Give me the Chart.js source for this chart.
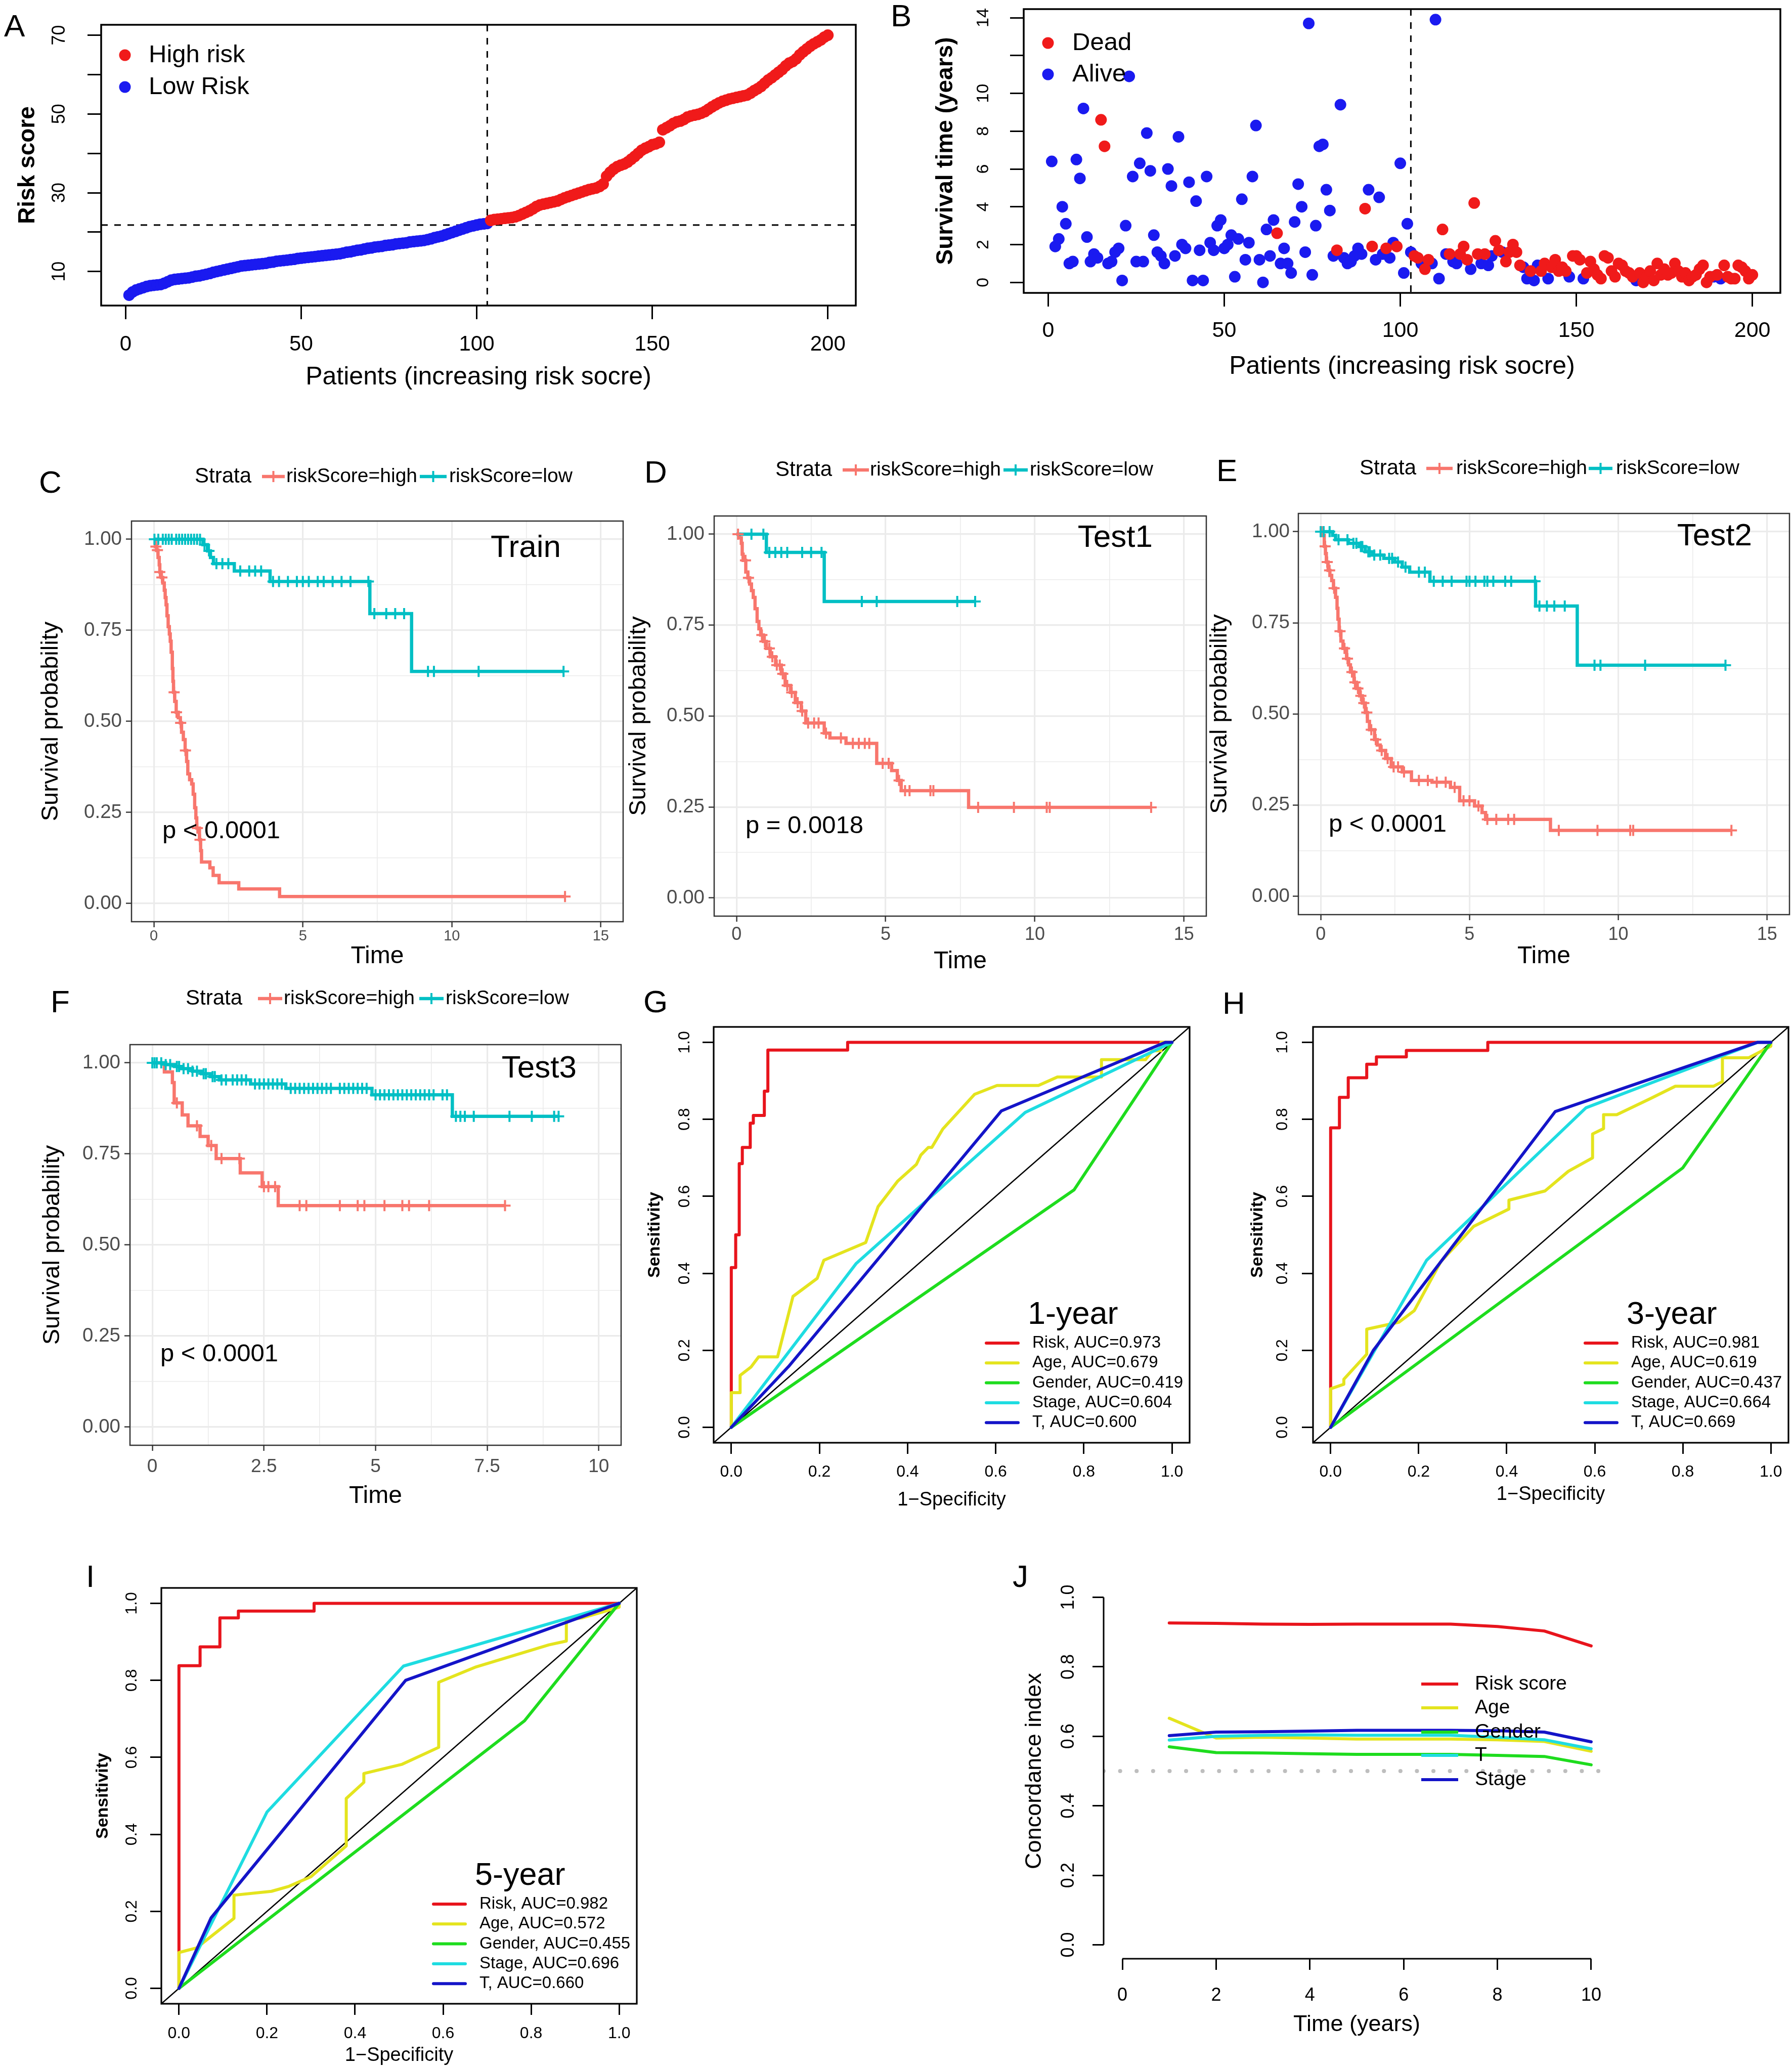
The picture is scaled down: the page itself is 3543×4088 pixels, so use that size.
<!DOCTYPE html>
<html>
<head>
<meta charset="utf-8">
<title>Risk model figure</title>
<script src="https://cdn.jsdelivr.net/npm/chart.js@4.4.1/dist/chart.umd.min.js"></script>
<style>
  html, body { margin: 0; padding: 0; background: #fff; }
  #page { position: relative; width: 3543px; height: 4088px; overflow: hidden; background: #fff;
          font-family: "Liberation Sans", Arial, Helvetica, sans-serif; }
  #page canvas { position: absolute; }
  .tag { position: absolute; font-size: 62px; line-height: 62px; color: #000; }
</style>
</head>
<body>
<div id="page"></div>
<script>
// ---------- A: risk score per patient (sorted) ----------
const riskScore = [
  4.0, 4.8, 5.3, 5.6, 5.9, 6.2, 6.4, 6.5, 6.6, 6.7,
  7.0, 7.4, 7.8, 8.0, 8.1, 8.2, 8.3, 8.4, 8.6, 8.8,
  8.9, 9.1, 9.3, 9.5, 9.8, 10.0, 10.2, 10.4, 10.6, 10.8,
  11.0, 11.2, 11.4, 11.5, 11.6, 11.7, 11.8, 11.9, 12.0, 12.1,
  12.3, 12.4, 12.6, 12.7, 12.8, 12.9, 13.0, 13.1, 13.3, 13.4,
  13.5, 13.6, 13.7, 13.8, 13.9, 14.0, 14.1, 14.2, 14.3, 14.4,
  14.5, 14.7, 14.9, 15.0, 15.2, 15.4, 15.5, 15.7, 15.9, 16.0,
  16.2, 16.3, 16.4, 16.6, 16.7, 16.8, 17.0, 17.1, 17.2, 17.3,
  17.5, 17.6, 17.7, 17.8, 17.9, 18.1, 18.3, 18.6, 18.8, 19.0,
  19.3, 19.6, 19.9, 20.2, 20.5, 20.8, 21.1, 21.4, 21.6, 21.8,
  22.0, 22.1, 22.2,
  23.0, 23.2, 23.3, 23.4, 23.5, 23.6, 23.7,
  23.9, 24.2, 24.6, 25.0, 25.4, 25.9, 26.5, 26.9, 27.1, 27.3,
  27.5, 27.7, 27.9, 28.3, 28.7, 29.0, 29.3, 29.6, 29.9, 30.2,
  30.5, 30.8, 31.0, 31.2, 31.6, 32.2, 34.2, 35.2, 36.0, 36.6,
  37.0, 37.3, 37.8, 38.5, 39.2, 40.0, 40.8, 41.3, 41.7, 42.2,
  42.4, 42.8, 46.0, 46.5, 47.0, 47.6, 48.0, 48.2, 48.6, 49.2,
  49.5, 49.7, 49.9, 50.2, 50.6, 51.2, 51.8, 52.3, 52.8, 53.2,
  53.5, 53.8, 54.0, 54.2, 54.4, 54.6, 54.8, 55.3, 55.9, 56.4,
  57.0, 57.8, 58.6, 59.2, 59.9, 60.6, 61.3, 62.2, 62.9, 63.3,
  64.0, 65.0, 65.8, 66.5, 67.2, 67.8, 68.3, 68.8, 69.5, 70.0
];
const riskCutoff = 21.8;
const lowRiskCount = 103;
const patientTicks = [0, 50, 100, 150, 200];
const riskTicks = [10, 20, 30, 40, 50, 60, 70];
const riskTickLabels = [10, 30, 50, 70];

// ---------- B: survival time and status per patient ----------
const survYears = [
  6.4, 1.9, 2.3, 4.0, 3.1, 1.0, 1.1, 6.5, 5.5, 9.2,
  2.4, 1.1, 1.5, 1.3, 8.6, 7.2, 1.0, 1.1, 1.6, 1.8,
  0.1, 3.0, 10.9, 5.6, 1.1, 6.3, 1.1, 7.9, 5.9, 2.5,
  1.6, 1.4, 1.0, 6.0, 5.1, 1.4, 7.7, 2.0, 1.8, 5.3,
  0.1, 4.3, 1.7, 0.1, 5.6, 2.1, 1.7, 3.0, 3.3, 1.8,
  2.0, 2.5, 0.3, 2.3, 4.4, 1.2, 2.1, 5.6, 8.3, 1.2,
  0.0, 2.8, 1.4, 3.3, 2.6, 1.0, 1.8, 1.0, 0.5, 3.2,
  5.2, 4.0, 1.6, 13.7, 0.4, 3.0, 7.2, 7.3, 4.9, 3.8,
  1.4, 1.7, 9.4, 1.3, 1.0, 1.1, 1.4, 1.8, 1.5, 3.9,
  4.9, 1.9, 1.2, 4.5, 1.5, 1.8, 1.3, 2.1, 1.9, 6.3,
  0.5, 3.1, 1.6, 1.4, 1.3, 1.0, 0.7, 1.2, 1.0, 13.9,
  0.2, 2.8, 1.5, 1.5, 1.1, 1.0, 1.5, 1.9, 1.2, 0.7,
  4.2, 1.5, 1.0, 1.5, 0.9, 1.4, 2.2, 1.7, 1.6, 1.1,
  1.6, 2.0, 1.6, 0.9, 0.8, 0.2, 0.6, 0.1, 0.9, 0.6,
  1.0, 0.2, 0.8, 1.2, 0.6, 0.8, 0.6, 0.3, 1.4, 1.4,
  1.2, 0.2, 0.5, 1.1, 0.7, 0.4, 0.2, 1.4, 1.3, 0.6,
  0.3, 1.0, 0.9, 0.6, 0.5, 0.3, 0.1, 0.5, 0.0, 0.3,
  0.6, 0.1, 1.0, 0.4, 0.7, 0.4, 0.5, 1.0, 0.6, 0.3,
  0.5, 0.1, 0.3, 0.4, 0.7, 0.9, 0.0, 0.3, 0.3, 0.4,
  0.2, 0.9, 0.3, 0.2, 0.2, 0.9, 0.8, 0.6, 0.2, 0.4
];
const deadFlag = [
  0, 0, 0, 0, 0, 0, 0, 0, 0, 0,
  0, 0, 0, 0, 1, 1, 0, 0, 0, 0,
  0, 0, 0, 0, 0, 0, 0, 0, 0, 0,
  0, 0, 0, 0, 0, 0, 0, 0, 0, 0,
  0, 0, 0, 0, 0, 0, 0, 0, 0, 0,
  0, 0, 0, 0, 0, 0, 0, 0, 0, 0,
  0, 0, 0, 0, 1, 0, 0, 0, 0, 0,
  0, 0, 0, 0, 0, 0, 0, 0, 0, 0,
  0, 1, 0, 0, 0, 0, 0, 0, 0, 1,
  0, 1, 0, 0, 0, 1, 0, 0, 1, 0,
  0, 0, 0, 1, 1, 0, 1, 1, 0, 0,
  0, 1, 0, 1, 0, 0, 1, 1, 1, 0,
  1, 1, 0, 1, 0, 0, 1, 1, 0, 1,
  1, 1, 1, 1, 0, 0, 1, 0, 0, 1,
  1, 0, 1, 1, 1, 1, 1, 0, 1, 1,
  1, 0, 1, 1, 1, 1, 1, 1, 1, 1,
  1, 1, 1, 1, 1, 1, 0, 1, 1, 1,
  1, 1, 1, 1, 1, 1, 1, 1, 1, 1,
  1, 1, 1, 1, 1, 1, 1, 1, 0, 1,
  0, 1, 1, 1, 1, 1, 1, 1, 1, 1
];
const survTicks = [0, 2, 4, 6, 8, 10, 12, 14];
const survTickLabels = [0, 2, 4, 6, 8, 10, 14];

// ---------- C-F: Kaplan-Meier steps [time, survival] and censor times ----------
const trainHighSteps = [[0.05,0.98],[0.1,0.97],[0.14,0.95],[0.18,0.93],[0.2,0.91],[0.25,0.895],[0.3,0.88],[0.35,0.86],
  [0.38,0.84],[0.41,0.82],[0.44,0.79],[0.48,0.76],[0.52,0.74],[0.55,0.72],[0.58,0.69],[0.62,0.645],[0.64,0.61],
  [0.66,0.58],[0.7,0.555],[0.75,0.525],[0.82,0.51],[0.89,0.496],[0.93,0.47],[0.99,0.45],[1.05,0.42],[1.1,0.39],
  [1.14,0.356],[1.2,0.34],[1.27,0.328],[1.32,0.3],[1.37,0.263],[1.41,0.235],[1.44,0.207],[1.53,0.175],[1.57,0.145],
  [1.6,0.114],[1.88,0.098],[1.99,0.077],[2.19,0.057],[2.85,0.04],[4.22,0.019]];
const trainHighCensor = [0.07, 0.12, 0.2, 0.27, 0.68, 0.76, 0.9, 1.06, 1.46, 1.55, 13.8];
const trainLowSteps = [[1.65,0.985],[1.8,0.968],[1.9,0.95],[2.0,0.933],[2.7,0.913],[3.9,0.884],[7.25,0.796],[8.65,0.637]];
const trainLowCensor = [0.02, 0.15, 0.3, 0.4, 0.5, 0.6, 0.75, 0.85, 0.95, 1.05, 1.15, 1.25, 1.35, 1.45, 1.55,
  1.7, 1.85, 2.1, 2.3, 2.5, 2.9, 3.2, 3.4, 3.6, 4.0, 4.2, 4.5, 4.8, 5.0, 5.2, 5.5, 5.7, 6.0, 6.3, 6.6, 7.2,
  7.4, 7.8, 8.1, 8.4, 9.2, 9.4, 10.9, 13.75];

const test1HighSteps = [[0.1,0.99],[0.16,0.975],[0.19,0.945],[0.22,0.928],[0.31,0.896],[0.38,0.88],[0.44,0.863],
  [0.5,0.845],[0.56,0.826],[0.62,0.795],[0.69,0.76],[0.75,0.74],[0.81,0.723],[0.9,0.705],[1.0,0.686],[1.13,0.663],
  [1.31,0.64],[1.5,0.616],[1.63,0.584],[1.81,0.565],[1.97,0.537],[2.17,0.514],[2.32,0.481],[2.94,0.453],[3.13,0.44],
  [3.67,0.425],[4.7,0.37],[5.2,0.35],[5.39,0.323],[5.52,0.295],[7.78,0.249]];
const test1HighCensor = [0.05, 0.3, 0.4, 0.85, 0.95, 1.1, 1.2, 1.35, 1.45, 1.55, 1.7, 1.85, 2.05, 2.2, 2.4, 2.6,
  2.75, 3.0, 3.5, 3.9, 4.1, 4.3, 4.45, 4.9, 5.1, 5.45, 5.65, 5.8, 6.5, 6.6, 8.1, 9.3, 10.4, 10.5, 13.9];
const test1LowSteps = [[1.0,0.95],[2.94,0.815]];
const test1LowCensor = [0.5, 0.9, 1.1, 1.3, 1.5, 1.7, 2.2, 2.5, 2.85, 4.2, 4.7, 7.4, 8.0];

const test2HighSteps = [[0.06,0.99],[0.12,0.96],[0.16,0.94],[0.19,0.917],[0.25,0.894],[0.31,0.88],[0.37,0.866],
  [0.43,0.845],[0.5,0.82],[0.55,0.79],[0.58,0.76],[0.62,0.727],[0.68,0.7],[0.75,0.68],[0.87,0.652],[0.94,0.635],
  [1.0,0.615],[1.12,0.587],[1.2,0.57],[1.31,0.55],[1.4,0.53],[1.5,0.504],[1.57,0.48],[1.64,0.457],[1.81,0.43],
  [1.9,0.415],[2.0,0.4],[2.18,0.378],[2.37,0.355],[2.74,0.341],[3.05,0.318],[3.74,0.313],[4.36,0.299],[4.67,0.262],
  [5.17,0.248],[5.42,0.23],[5.54,0.211],[7.72,0.181]];
const test2HighCensor = [0.03, 0.15, 0.22, 0.3, 0.45, 0.65, 0.8, 0.9, 1.05, 1.15, 1.25, 1.35, 1.45, 1.55, 1.7,
  1.85, 2.05, 2.25, 2.45, 2.6, 2.8, 3.3, 3.6, 3.9, 4.2, 4.5, 4.8, 5.0, 5.3, 5.6, 5.9, 6.3, 6.5, 8.0, 9.3, 10.4,
  10.5, 13.8];
const test2LowSteps = [[0.4,0.99],[0.5,0.978],[0.93,0.968],[1.3,0.959],[1.5,0.945],[1.74,0.936],[2.12,0.927],
  [2.49,0.917],[2.74,0.903],[2.99,0.889],[3.67,0.864],[7.22,0.796],[8.62,0.634]];
const test2LowCensor = [0.0, 0.1, 0.3, 0.6, 0.9, 1.1, 1.2, 1.35, 1.4, 1.6, 1.65, 1.8, 2.0, 2.3, 2.4, 2.6, 2.85,
  3.3, 3.5, 3.8, 4.1, 4.4, 4.9, 5.0, 5.2, 5.5, 5.6, 5.8, 6.2, 6.4, 7.2, 7.35, 7.6, 7.85, 8.2, 9.2, 9.4, 10.9, 13.6];

const test3HighSteps = [[0.27,0.975],[0.45,0.946],[0.49,0.89],[0.67,0.857],[0.8,0.827],[1.07,0.798],[1.25,0.773],
  [1.43,0.737],[1.97,0.698],[2.46,0.66],[2.82,0.608]];
const test3HighCensor = [0.55, 1.0, 1.32, 1.55, 1.95, 2.5, 2.6, 2.75, 3.3, 3.45, 4.2, 4.6, 4.75, 5.2, 5.6, 5.75,
  6.2, 7.9];
const test3LowSteps = [[0.3,0.995],[0.5,0.99],[0.65,0.984],[0.9,0.977],[1.1,0.97],[1.3,0.962],[1.5,0.953],
  [2.2,0.942],[2.99,0.93],[4.92,0.912],[6.72,0.853]];
const test3LowCensor = [0, 0.05, 0.1, 0.2, 0.3, 0.4, 0.55, 0.6, 0.7, 0.8, 0.9, 1.0, 1.15, 1.2, 1.35, 1.4, 1.55,
  1.65, 1.8, 1.9, 2.0, 2.1, 2.3, 2.4, 2.5, 2.6, 2.7, 2.8, 2.9, 3.1, 3.2, 3.3, 3.4, 3.5, 3.6, 3.7, 3.8, 3.9, 4.0,
  4.2, 4.3, 4.4, 4.5, 4.6, 4.7, 4.8, 5.0, 5.1, 5.2, 5.3, 5.4, 5.5, 5.6, 5.7, 5.8, 5.9, 6.0, 6.1, 6.2, 6.3, 6.5,
  6.6, 6.8, 6.9, 7.0, 7.2, 8.0, 8.5, 9.0, 9.1];

const kmTimeGrid15 = [0, 2.5, 5, 7.5, 10, 12.5, 15];
const kmTimeMajor15 = [0, 5, 10, 15];
const kmTimeGrid10 = [0, 1.25, 2.5, 3.75, 5, 6.25, 7.5, 8.75, 10];
const kmTimeMajor10 = [0, 2.5, 5, 7.5, 10];
const kmProbGrid = [0, 0.125, 0.25, 0.375, 0.5, 0.625, 0.75, 0.875, 1];
const kmProbMajor = [0, 0.25, 0.5, 0.75, 1];

// ---------- G-I: ROC curves [1-specificity, sensitivity] ----------
const rocNames = ['Risk', 'Age', 'Gender', 'Stage', 'T'];
const auc1 = [0.973, 0.679, 0.419, 0.604, 0.600];
const auc3 = [0.981, 0.619, 0.437, 0.664, 0.669];
const auc5 = [0.982, 0.572, 0.455, 0.696, 0.660];

const roc1Risk = [[0,0],[0,0.415],[0.01,0.415],[0.01,0.5],[0.018,0.5],[0.018,0.685],[0.025,0.685],[0.025,0.727],
  [0.043,0.727],[0.043,0.79],[0.05,0.79],[0.05,0.81],[0.075,0.81],[0.075,0.873],[0.083,0.873],[0.083,0.98],
  [0.264,0.98],[0.264,1],[1,1]];
const roc1Age = [[0,0],[0,0.09],[0.02,0.09],[0.02,0.135],[0.045,0.157],[0.062,0.183],[0.105,0.183],[0.12,0.25],
  [0.14,0.34],[0.195,0.387],[0.21,0.434],[0.305,0.48],[0.333,0.573],[0.378,0.64],[0.42,0.683],[0.43,0.707],
  [0.447,0.727],[0.455,0.727],[0.48,0.775],[0.552,0.865],[0.603,0.888],[0.697,0.888],[0.74,0.91],[0.84,0.91],
  [0.84,0.955],[0.94,0.955],[0.955,0.978],[0.975,0.978],[0.975,1],[1,1]];
const roc1Gender = [[0,0],[0.778,0.617],[1,1]];
const roc1Stage = [[0,0],[0.283,0.425],[0.667,0.818],[1,1]];
const roc1T = [[0,0],[0.13,0.158],[0.613,0.822],[0.985,1],[1,1]];

const roc3Risk = [[0,0],[0,0.778],[0.02,0.778],[0.02,0.857],[0.04,0.857],[0.04,0.908],[0.082,0.908],[0.082,0.943],
  [0.104,0.943],[0.104,0.962],[0.172,0.962],[0.172,0.979],[0.357,0.979],[0.357,1],[1,1]];
const roc3Age = [[0,0],[0,0.1],[0.03,0.112],[0.03,0.125],[0.082,0.19],[0.082,0.255],[0.155,0.273],[0.19,0.303],
  [0.25,0.43],[0.325,0.522],[0.405,0.567],[0.405,0.59],[0.487,0.614],[0.54,0.665],[0.595,0.7],[0.595,0.762],
  [0.62,0.776],[0.62,0.812],[0.65,0.812],[0.725,0.853],[0.783,0.886],[0.87,0.886],[0.89,0.898],[0.89,0.96],
  [0.95,0.96],[1,0.99],[1,1]];
const roc3Gender = [[0,0],[0.8,0.674],[1,1]];
const roc3Stage = [[0,0],[0.095,0.19],[0.218,0.434],[0.58,0.83],[0.97,1],[1,1]];
const roc3T = [[0,0],[0.097,0.2],[0.51,0.82],[0.97,1],[1,1]];

const roc5Risk = [[0,0],[0,0.838],[0.048,0.838],[0.048,0.887],[0.093,0.887],[0.093,0.962],[0.135,0.962],
  [0.135,0.98],[0.307,0.98],[0.307,1],[1,1]];
const roc5Age = [[0,0],[0,0.093],[0.04,0.105],[0.125,0.182],[0.125,0.242],[0.21,0.252],[0.25,0.265],[0.3,0.29],
  [0.38,0.37],[0.38,0.493],[0.42,0.535],[0.42,0.558],[0.507,0.582],[0.59,0.626],[0.59,0.795],[0.675,0.835],
  [0.84,0.892],[0.88,0.902],[0.88,0.957],[0.915,0.962],[1,0.99],[1,1]];
const roc5Gender = [[0,0],[0.785,0.695],[1,1]];
const roc5Stage = [[0,0],[0.2,0.458],[0.51,0.837],[1,1]];
const roc5T = [[0,0],[0.073,0.183],[0.515,0.8],[1,1]];
const rocTicks = [0, 0.2, 0.4, 0.6, 0.8, 1];

// ---------- J: concordance index by year ----------
const cYears = [1, 2, 3, 4, 5, 6, 7, 8, 9, 10];
const cRisk = [0.926, 0.925, 0.923, 0.922, 0.923, 0.923, 0.923, 0.916, 0.903, 0.860];
const cAge = [0.652, 0.595, 0.597, 0.595, 0.592, 0.592, 0.592, 0.590, 0.585, 0.557];
const cGender = [0.570, 0.553, 0.552, 0.550, 0.548, 0.548, 0.548, 0.545, 0.542, 0.518];
const cT = [0.589, 0.600, 0.603, 0.604, 0.603, 0.603, 0.603, 0.597, 0.590, 0.564];
const cStage = [0.602, 0.612, 0.613, 0.615, 0.617, 0.617, 0.617, 0.616, 0.612, 0.584];
const cNames = ['Risk score', 'Age', 'Gender', 'T', 'Stage'];
const cTimeTicks = [0, 2, 4, 6, 8, 10];
const cIndexTicks = [0, 0.2, 0.4, 0.6, 0.8, 1];
const cIndexRef = 0.5;

// ---------- styling ----------
const FONT = '"Liberation Sans", Arial, Helvetica, sans-serif';
const RED = '#F01A1A', BLUE = '#1A1AF0';
const SALMON = '#F8766D', TEAL = '#00BFC4';
const LINE5 = ['#E8141C', '#E4E41E', '#1EDC1E', '#1EDCE1', '#1414C8'];
Chart.defaults.font.family = FONT;
Chart.defaults.color = '#000';

const page = document.getElementById('page');

function textWidth(str, size, weight) {
  if (!textWidth.ctx) textWidth.ctx = document.createElement('canvas').getContext('2d');
  textWidth.ctx.font = (weight ? weight + ' ' : '') + size + 'px ' + FONT;
  return textWidth.ctx.measureText(str).width;
}
const pairs = arr => arr.map(p => ({x: p[0], y: p[1]}));
const zipXY = (xs, ys) => xs.map((v, i) => ({x: v, y: ys[i]}));

function survAt(steps, t) {
  let s = 1;
  steps.forEach(p => { if (p[0] <= t) s = p[1]; });
  return s;
}
function kmLine(steps, censor) {
  const end = Math.max(...censor, steps[steps.length - 1][0]);
  return [{x: 0, y: 1}].concat(pairs(steps), [{x: end, y: steps[steps.length - 1][1]}]);
}
function kmCensor(steps, censor) {
  return censor.map(t => ({x: t, y: survAt(steps, t)}));
}

// ---------- plugins (per chart) ----------
function framePlugin(f) {
  return {
    id: 'frame',
    afterDatasetsDraw(chart) {
      if (!f) return;
      const a = chart.chartArea, ctx = chart.ctx;
      ctx.save();
      ctx.strokeStyle = f.color;
      ctx.lineWidth = f.width;
      ctx.strokeRect(a.left, a.top, a.right - a.left, a.bottom - a.top);
      ctx.restore();
    }
  };
}
function refsPlugin(lines) {
  return {
    id: 'refs',
    beforeDatasetsDraw(chart) {
      const {x, y} = chart.scales, a = chart.chartArea, ctx = chart.ctx;
      ctx.save();
      ctx.beginPath();
      ctx.rect(a.left, a.top, a.right - a.left, a.bottom - a.top);
      ctx.clip();
      lines.forEach(l => {
        ctx.beginPath();
        ctx.strokeStyle = l.color;
        ctx.lineWidth = l.width;
        ctx.setLineDash(l.dash || []);
        ctx.lineCap = l.cap || 'butt';
        if (l.kind === 'h') {
          const py = y.getPixelForValue(l.value);
          ctx.moveTo(a.left, py); ctx.lineTo(a.right, py);
        } else if (l.kind === 'v') {
          const px = x.getPixelForValue(l.value);
          ctx.moveTo(px, a.top); ctx.lineTo(px, a.bottom);
        } else {
          ctx.moveTo(x.getPixelForValue(x.min), y.getPixelForValue(x.min));
          ctx.lineTo(x.getPixelForValue(x.max), y.getPixelForValue(x.max));
        }
        ctx.stroke();
      });
      ctx.restore();
    }
  };
}
function axisLinePlugin(al) {
  return {
    id: 'axisLines',
    afterDraw(chart) {
      if (!al) return;
      const {x, y} = chart.scales, a = chart.chartArea, ctx = chart.ctx;
      ctx.save();
      ctx.strokeStyle = '#000';
      ctx.lineWidth = al.width;
      ctx.beginPath();
      ctx.moveTo(a.left, y.getPixelForValue(al.y[0]));
      ctx.lineTo(a.left, y.getPixelForValue(al.y[1]));
      ctx.moveTo(x.getPixelForValue(al.x[0]), a.bottom);
      ctx.lineTo(x.getPixelForValue(al.x[1]), a.bottom);
      ctx.stroke();
      ctx.restore();
    }
  };
}
// legends and free text, positions in page pixels
function decoPlugin(items, off) {
  return {
    id: 'deco',
    afterDraw(chart) {
      const ctx = chart.ctx;
      items.forEach(it => {
        ctx.save();
        if (it.kind === 'text') {
          ctx.font = (it.weight || 'normal') + ' ' + it.size + 'px ' + FONT;
          ctx.fillStyle = it.color || '#000';
          ctx.textAlign = it.align || 'left';
          ctx.textBaseline = 'middle';
          ctx.fillText(it.text, it.x - off.x, it.y - off.y);
        } else if (it.kind === 'line') {
          ctx.strokeStyle = it.color;
          ctx.lineWidth = it.width;
          ctx.lineCap = it.cap || 'butt';
          ctx.beginPath();
          ctx.moveTo(it.x1 - off.x, it.y - off.y);
          ctx.lineTo(it.x2 - off.x, it.y - off.y);
          ctx.stroke();
        } else if (it.kind === 'cross') {
          const cx = it.x - off.x, cy = it.y - off.y;
          ctx.strokeStyle = it.color;
          ctx.lineWidth = it.width;
          ctx.beginPath();
          ctx.moveTo(cx - it.r, cy); ctx.lineTo(cx + it.r, cy);
          ctx.moveTo(cx, cy - it.r); ctx.lineTo(cx, cy + it.r);
          ctx.stroke();
        } else if (it.kind === 'dot') {
          ctx.fillStyle = it.color;
          ctx.beginPath();
          ctx.arc(it.x - off.x, it.y - off.y, it.r, 0, Math.PI * 2);
          ctx.fill();
        }
        ctx.restore();
      });
    }
  };
}

// ---------- axis builders ----------
// base-R look: outward ticks, rotated y labels, no grid
function rAxis(o, b, isY) {
  const labels = o.ticks.map(v => o.show(v) ? o.fmt(v) : '');
  let pad;
  if (isY) {
    const widest = Math.max(...labels.map(t => textWidth(t, o.size)));
    pad = b.l - o.tl - widest / 2 - o.tickPos;
  } else {
    pad = o.tickPos - b.b - o.tl - 0.6 * o.size;
  }
  return {
    type: 'linear', min: o.min, max: o.max,
    afterBuildTicks: s => { s.ticks = o.ticks.map(v => ({value: v})); },
    afterFit: s => { if (isY) s.width = o.fit; else s.height = o.fit; },
    ticks: {
      autoSkip: false, color: '#000', font: {size: o.size}, padding: pad,
      minRotation: isY ? 90 : 0, maxRotation: isY ? 90 : 0, crossAlign: isY ? 'center' : 'near',
      callback: (v, i) => labels[i]
    },
    grid: {drawOnChartArea: false, drawTicks: true, tickLength: o.tl, tickColor: '#000', tickWidth: 3},
    border: {display: false},
    title: {display: true, text: o.title, color: '#000',
      font: {size: o.titleSize, weight: o.titleWeight || 'normal'}, padding: {top: 4, bottom: 4}}
  };
}
// ggplot theme_bw look: major + minor grid, grey tick labels
function ggAxis(o, b, isY) {
  const labels = o.grid.map(v => o.major.includes(v) ? o.fmt(v) : '');
  const pad = isY ? b.l - 11 - o.tickPos : o.tickPos - b.b - 11 - 0.6 * o.size;
  const isMajor = c => c.tick && o.major.includes(c.tick.value);
  return {
    type: 'linear', min: o.min, max: o.max,
    afterBuildTicks: s => { s.ticks = o.grid.map(v => ({value: v})); },
    afterFit: s => { if (isY) s.width = o.fit; else s.height = o.fit; },
    ticks: {
      autoSkip: false, minRotation: 0, maxRotation: 0, color: '#4d4d4d', font: {size: o.size}, padding: pad,
      callback: (v, i) => labels[i]
    },
    grid: {
      drawOnChartArea: true, drawTicks: true, tickLength: 11, color: '#ebebeb',
      lineWidth: c => isMajor(c) ? 3.2 : 1.6,
      tickColor: c => isMajor(c) ? '#333333' : 'rgba(0,0,0,0)',
      tickWidth: 2.4
    },
    border: {display: false},
    title: {display: true, text: o.title, color: '#000', font: {size: o.titleSize}, padding: {top: 4, bottom: 4}}
  };
}

function makePanel(p) {
  const b = p.box;
  const left = Math.round(p.y.titlePos - 0.6 * p.y.titleSize - 4);
  const bottom = Math.round(p.x.titlePos + 0.6 * p.x.titleSize + 4);
  const padTop = 160, padRight = 90;
  const top = b.t - padTop;
  const width = b.r + padRight - left, height = bottom - top;
  const cv = document.createElement('canvas');
  cv.width = width; cv.height = height;
  cv.style.left = left + 'px'; cv.style.top = top + 'px';
  cv.style.width = width + 'px'; cv.style.height = height + 'px';
  page.appendChild(cv);
  p.x.fit = bottom - b.b;
  p.y.fit = b.l - left;
  const axis = p.style === 'gg' ? ggAxis : rAxis;
  return new Chart(cv, {
    type: 'line',
    data: {datasets: p.datasets},
    options: {
      responsive: false, animation: false, devicePixelRatio: 1, events: [],
      layout: {padding: {left: 0, top: padTop, right: padRight, bottom: 0}},
      scales: {x: axis(p.x, b, false), y: axis(p.y, b, true)},
      plugins: {legend: {display: false}, tooltip: {enabled: false}}
    },
    plugins: [refsPlugin(p.refs || []), framePlugin(p.frame), axisLinePlugin(p.axisLines),
      decoPlugin(p.deco || [], {x: left, y: top})]
  });
}

// ---------- dataset helpers ----------
function dots(data, color, order) {
  return {data, showLine: false, pointRadius: 11.5, pointBackgroundColor: color, pointBorderWidth: 0, order};
}
function kmDatasets(hiSteps, hiCens, loSteps, loCens) {
  const cross = (data, color, order) => ({data, showLine: false, pointStyle: 'cross', pointRadius: 11,
    pointBorderColor: color, pointBorderWidth: 4, order});
  const step = (data, color, order) => ({data, borderColor: color, borderWidth: 6.5, pointRadius: 0,
    stepped: 'before', order});
  return [
    cross(kmCensor(loSteps, loCens), TEAL, 1),
    cross(kmCensor(hiSteps, hiCens), SALMON, 2),
    step(kmLine(loSteps, loCens), TEAL, 3),
    step(kmLine(hiSteps, hiCens), SALMON, 4)
  ];
}
function curveDatasets(curves) {
  return curves.map((c, k) => ({data: c, borderColor: LINE5[k], borderWidth: 6, pointRadius: 0,
    borderCapStyle: 'round', borderJoinStyle: 'round', order: curves.length - k}));
}
function kmDeco(L) {
  const items = [{kind: 'text', text: 'Strata', x: L.strata, y: L.y, size: 42}];
  [[L.hi, SALMON, 'riskScore=high'], [L.lo, TEAL, 'riskScore=low']].forEach(([k, col, txt]) => {
    items.push({kind: 'line', x1: k[0], x2: k[1], y: L.y, color: col, width: 6.5});
    items.push({kind: 'cross', x: (k[0] + k[1]) / 2, y: L.y, r: 11, color: col, width: 4});
    items.push({kind: 'text', text: txt, x: k[2], y: L.y, size: 39});
  });
  items.push({kind: 'text', text: L.title, x: L.titleX, y: L.titleY, size: 62, align: 'right'});
  items.push({kind: 'text', text: L.pval, x: L.pX, y: L.pY, size: 49});
  return items;
}
function rocDeco(b, title, auc) {
  const items = [{kind: 'text', text: title, x: b.r - 320, y: b.b - 252, size: 63}];
  rocNames.forEach((n, k) => {
    const yy = b.b - 197 + 39.3 * k;
    items.push({kind: 'line', x1: b.r - 402, x2: b.r - 339, y: yy, color: LINE5[k], width: 6, cap: 'round'});
    items.push({kind: 'text', text: n + ', AUC=' + auc[k].toFixed(3), x: b.r - 311, y: yy, size: 33});
  });
  return items;
}

// ---------- A ----------
const lowPts = [], highPts = [];
riskScore.forEach((v, i) => (i < lowRiskCount ? lowPts : highPts).push({x: i + 1, y: v}));
makePanel({
  style: 'r', box: {l: 200, t: 49, r: 1692, b: 604},
  x: {min: -6.96, max: 207.96, ticks: patientTicks, show: () => true, fmt: String, size: 42, tl: 27, tickPos: 681,
      title: 'Patients (increasing risk socre)', titleSize: 50, titlePos: 746},
  y: {min: 1.36, max: 72.64, ticks: riskTicks, show: v => riskTickLabels.includes(v), fmt: String, size: 36, tl: 27,
      tickPos: 118, title: 'Risk score', titleSize: 46, titleWeight: 'bold', titlePos: 56},
  datasets: [dots(highPts, RED, 1), dots(lowPts, BLUE, 2)],
  refs: [{kind: 'v', value: lowRiskCount, color: '#000', width: 3, dash: [13, 13]},
         {kind: 'h', value: riskCutoff, color: '#000', width: 3, dash: [13, 13]}],
  frame: {color: '#000', width: 3.5},
  deco: [{kind: 'dot', x: 247, y: 109, r: 11.5, color: RED},
         {kind: 'text', text: 'High risk', x: 294, y: 109, size: 49},
         {kind: 'dot', x: 247, y: 172, r: 11.5, color: BLUE},
         {kind: 'text', text: 'Low Risk', x: 294, y: 172, size: 49}]
});

// ---------- B ----------
const deadPts = [], alivePts = [];
survYears.forEach((v, i) => (deadFlag[i] ? deadPts : alivePts).push({x: i + 1, y: v}));
makePanel({
  style: 'r', box: {l: 2024, t: 18, r: 3520, b: 579},
  x: {min: -6.96, max: 207.96, ticks: patientTicks, show: () => true, fmt: String, size: 43, tl: 27, tickPos: 654,
      title: 'Patients (increasing risk socre)', titleSize: 50, titlePos: 725},
  y: {min: -0.556, max: 14.456, ticks: survTicks, show: v => survTickLabels.includes(v), fmt: String, size: 34,
      tl: 27, tickPos: 1945, title: 'Survival time (years)', titleSize: 46, titleWeight: 'bold', titlePos: 1871},
  datasets: [dots(deadPts, RED, 1), dots(alivePts, BLUE, 2)],
  refs: [{kind: 'v', value: lowRiskCount, color: '#000', width: 3, dash: [13, 13]}],
  frame: {color: '#000', width: 3.5},
  deco: [{kind: 'dot', x: 2072, y: 85, r: 11.5, color: RED},
         {kind: 'text', text: 'Dead', x: 2120, y: 85, size: 49},
         {kind: 'dot', x: 2072, y: 147, r: 11.5, color: BLUE},
         {kind: 'text', text: 'Alive', x: 2120, y: 147, size: 49}]
});

// ---------- C-F ----------
const fmt2 = v => v.toFixed(2);
function kmPanel(box, xGrid, xMajor, xRange, xSize, xTickPos, xTitlePos, yTickPos, yTitlePos, data, L) {
  makePanel({
    style: 'gg', box,
    x: {min: xRange[0], max: xRange[1], grid: xGrid, major: xMajor, fmt: String, size: xSize, tickPos: xTickPos,
        title: 'Time', titleSize: 48, titlePos: xTitlePos},
    y: {min: -0.05, max: 1.05, grid: kmProbGrid, major: kmProbMajor, fmt: fmt2, size: 38.5, tickPos: yTickPos,
        title: 'Survival probability', titleSize: 47, titlePos: yTitlePos},
    datasets: data,
    frame: {color: '#333333', width: 2.5},
    deco: kmDeco(L)
  });
}
kmPanel({l: 260, t: 1030, r: 1232, b: 1822}, kmTimeGrid15, kmTimeMajor15, [-0.75, 15.75], 29, 1851, 1891, 241, 101,
  kmDatasets(trainHighSteps, trainHighCensor, trainLowSteps, trainLowCensor),
  {strata: 385, y: 942, hi: [518, 563, 566], lo: [830, 883, 888],
   title: 'Train', titleX: 1109, titleY: 1084, pval: 'p < 0.0001', pX: 321, pY: 1643});
kmPanel({l: 1412, t: 1020, r: 2385, b: 1811}, kmTimeGrid15, kmTimeMajor15, [-0.75, 15.75], 36, 1848, 1901, 1393, 1263,
  kmDatasets(test1HighSteps, test1HighCensor, test1LowSteps, test1LowCensor),
  {strata: 1533, y: 929, hi: [1666, 1718, 1720], lo: [1984, 2032, 2036],
   title: 'Test1', titleX: 2279, titleY: 1064, pval: 'p = 0.0018', pX: 1474, pY: 1633});
kmPanel({l: 2567, t: 1015, r: 3538, b: 1808}, kmTimeGrid15, kmTimeMajor15, [-0.75, 15.75], 36, 1848, 1891, 2550, 2412,
  kmDatasets(test2HighSteps, test2HighCensor, test2LowSteps, test2LowCensor),
  {strata: 2688, y: 926, hi: [2820, 2872, 2879], lo: [3141, 3188, 3195],
   title: 'Test2', titleX: 3464, titleY: 1061, pval: 'p < 0.0001', pX: 2627, pY: 1630});
kmPanel({l: 257, t: 2065, r: 1228, b: 2857}, kmTimeGrid10, kmTimeMajor10, [-0.5, 10.5], 37, 2900, 2958, 238, 104,
  kmDatasets(test3HighSteps, test3HighCensor, test3LowSteps, test3LowCensor),
  {strata: 367, y: 1974, hi: [510, 558, 561], lo: [829, 877, 881],
   title: 'Test3', titleX: 1140, titleY: 2113, pval: 'p < 0.0001', pX: 317, pY: 2677});

// ---------- G-I ----------
const fmt1 = v => v.toFixed(1);
function rocPanel(box, xTickPos, xTitlePos, yTickPos, yTitlePos, curves, title, auc) {
  makePanel({
    style: 'r', box,
    x: {min: -0.04, max: 1.04, ticks: rocTicks, show: () => true, fmt: fmt1, size: 32, tl: 22, tickPos: xTickPos,
        title: '1\u2212Specificity', titleSize: 38, titlePos: xTitlePos},
    y: {min: -0.04, max: 1.04, ticks: rocTicks, show: () => true, fmt: fmt1, size: 32, tl: 22, tickPos: yTickPos,
        title: 'Sensitivity', titleSize: 34, titleWeight: 'bold', titlePos: yTitlePos},
    datasets: curveDatasets(curves.map(pairs)),
    refs: [{kind: 'd', color: '#000', width: 2.5}],
    frame: {color: '#000', width: 3.2},
    deco: rocDeco(box, title, auc)
  });
}
rocPanel({l: 1411, t: 2030, r: 2352, b: 2852}, 2910, 2965, 1354, 1294,
  [roc1Risk, roc1Age, roc1Gender, roc1Stage, roc1T], '1-year', auc1);
rocPanel({l: 2596, t: 2030, r: 3536, b: 2852}, 2910, 2954, 2536, 2486,
  [roc3Risk, roc3Age, roc3Gender, roc3Stage, roc3T], '3-year', auc3);
rocPanel({l: 319, t: 3139, r: 1259, b: 3961}, 4020, 4063, 261, 203,
  [roc5Risk, roc5Age, roc5Gender, roc5Stage, roc5T], '5-year', auc5);

// ---------- J ----------
const jDeco = [];
cNames.forEach((n, k) => {
  const yy = [3329, 3376, 3424, 3470, 3518][k];
  jDeco.push({kind: 'line', x1: 2810, x2: 2883, y: yy, color: LINE5[k], width: 6});
  jDeco.push({kind: 'text', text: n, x: 2916, y: yy, size: 39});
});
makePanel({
  style: 'r', box: {l: 2182, t: 3130, r: 3183, b: 3872},
  x: {min: -0.4, max: 10.4, ticks: cTimeTicks, show: () => true, fmt: String, size: 36, tl: 22, tickPos: 3945,
      title: 'Time (years)', titleSize: 45, titlePos: 4003},
  y: {min: -0.04, max: 1.04, ticks: cIndexTicks, show: () => true, fmt: fmt1, size: 36, tl: 22, tickPos: 2113,
      title: 'Concordance index', titleSize: 45, titlePos: 2046},
  datasets: curveDatasets([cRisk, cAge, cGender, cT, cStage].map(ys => zipXY(cYears, ys))),
  refs: [{kind: 'h', value: cIndexRef, color: '#BEBEBE', width: 8, dash: [0.1, 32.5], cap: 'round'}],
  axisLines: {x: [0, 10], y: [0, 1], width: 3},
  deco: jDeco
});

// ---------- panel letters ----------
[['A', 8, 28], ['B', 1761, 8], ['C', 77, 930], ['D', 1274, 910], ['E', 2405, 907], ['F', 100, 1957],
 ['G', 1272, 1957], ['H', 2417, 1960], ['I', 170, 3093], ['J', 2002, 3093]].forEach(([t, x, y]) => {
  const d = document.createElement('div');
  d.className = 'tag';
  d.textContent = t;
  d.style.left = x + 'px';
  d.style.top = (y - 8) + 'px';
  page.appendChild(d);
});
</script>
</body>
</html>
